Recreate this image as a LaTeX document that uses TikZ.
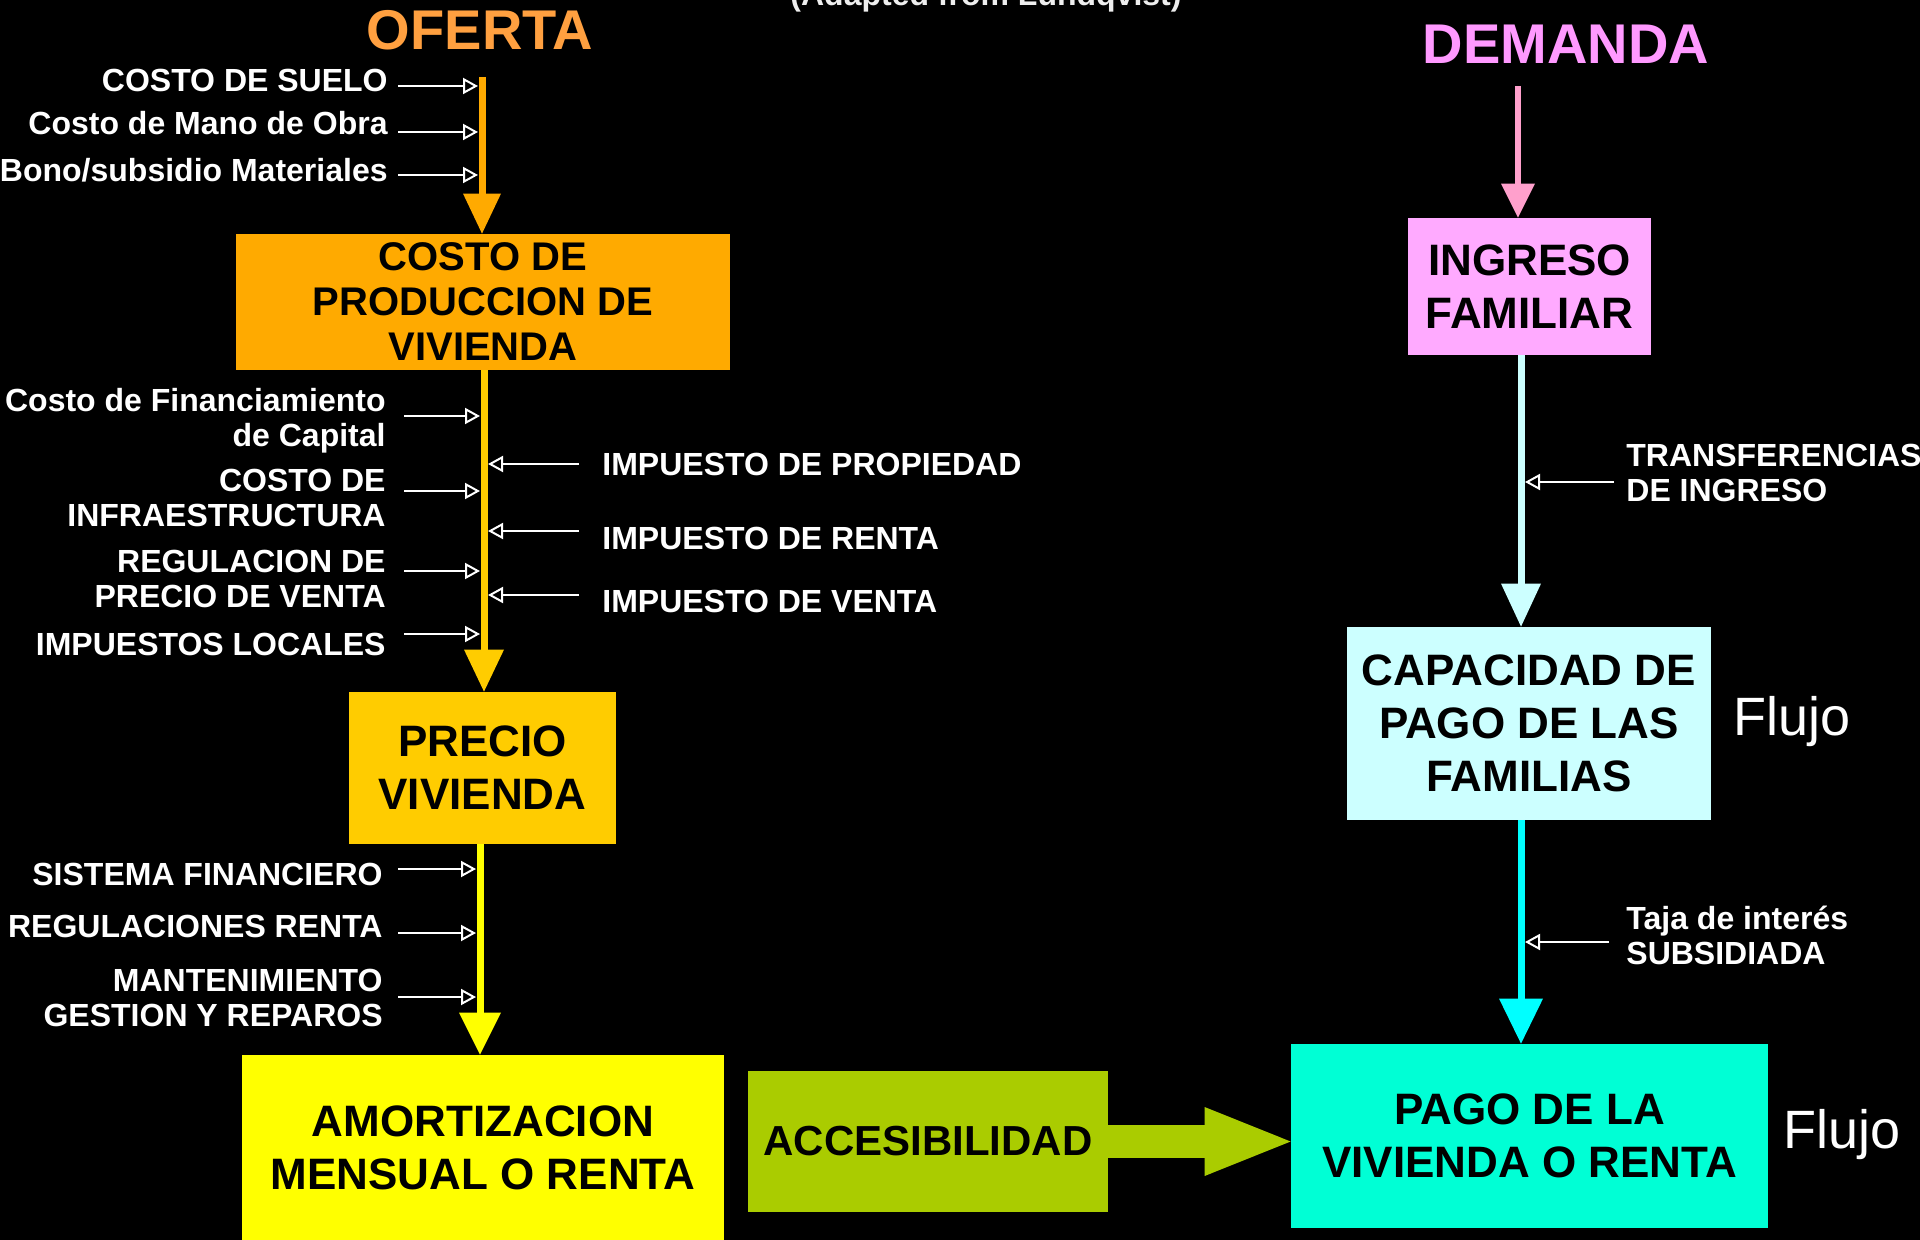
\documentclass[tikz,border=0pt]{standalone}
\usepackage{fontspec}
\setmainfont{Liberation Sans}
\usetikzlibrary{arrows.meta}
\definecolor{cOferta}{HTML}{FFA040}
\definecolor{cDemanda}{HTML}{FF99FF}
\definecolor{cOrange}{HTML}{FFAA00}
\definecolor{cGold}{HTML}{FFCC00}
\definecolor{cYellow}{HTML}{FFFF00}
\definecolor{cGreen}{HTML}{AACC00}
\definecolor{cAqua}{HTML}{00FFD5}
\definecolor{cPink}{HTML}{FFAAFF}
\definecolor{cPinkArr}{HTML}{FFA0CC}
\definecolor{cLCyan}{HTML}{CCFFFF}
\definecolor{cCyan}{HTML}{00FFFF}
\definecolor{cNote}{HTML}{EEEEEE}
\begin{document}
\begin{tikzpicture}[x=0.5pt,y=-0.5pt,
  box/.style={inner sep=0pt, align=center, text=black, font=\bfseries\fontsize{22}{26.5}\selectfont},
  title/.style={inner sep=0pt, font=\bfseries\fontsize{28}{30}\selectfont},
  lbl/.style={inner sep=0pt, text=white, font=\bfseries\fontsize{16}{17.5}\selectfont},
  lblL/.style={lbl, anchor=east, align=right},
  lblR/.style={lbl, anchor=west, align=left},
  flujo/.style={inner sep=0pt, text=white, font=\fontsize{27}{30}\selectfont},
  flow/.style={line width=3.5pt},
  inarr/.style={draw=white, line width=1pt, -{Triangle[open, width=8pt, length=7.5pt]}},
]
\fill[black] (0,0) rectangle (1920,1240);
\useasboundingbox (0,0) rectangle (1920,1240);

% titles
\node[title, text=cOferta] (oferta) at (480,30) {OFERTA};
\node[title, text=cDemanda] (demanda) at (1566,44) {DEMANDA};
\node[inner sep=0pt, text=cNote, anchor=base, font=\bfseries\fontsize{16}{18}\selectfont] (adapted) at (986,6) {(Adapted from Lundqvist)};

% boxes
\node[box, fill=cOrange, minimum width=247pt, minimum height=68pt, font=\bfseries\fontsize{20}{22.5}\selectfont] (cpv) at (483,302) {COSTO DE\\PRODUCCION DE\\VIVIENDA};
\node[box, fill=cGold, minimum width=133.5pt, minimum height=76pt] (precio) at (482.5,768) {PRECIO\\VIVIENDA};
\node[box, fill=cYellow, minimum width=241pt, minimum height=93pt] (amort) at (483,1148) {AMORTIZACION\\MENSUAL O RENTA};
\node[box, fill=cGreen, minimum width=180pt, minimum height=70.5pt, font=\bfseries\fontsize{21}{24}\selectfont] (acc) at (928,1141.5) {\raisebox{-2pt}{ACCESIBILIDAD}};
\node[box, fill=cAqua, minimum width=238.5pt, minimum height=92pt] (pago) at (1529.5,1136) {PAGO DE LA\\VIVIENDA O RENTA};
\node[box, fill=cPink, minimum width=121.5pt, minimum height=68.5pt] (ing) at (1529.5,286.5) {INGRESO\\FAMILIAR};
\node[box, fill=cLCyan, minimum width=182pt, minimum height=96.5pt] (cap) at (1529,723.5) {CAPACIDAD DE\\PAGO DE LAS\\FAMILIAS};

\node[flujo] (flujo1) at (1792,722) {Flujo};
\node[flujo] (flujo2) at (1842,1135) {Flujo};

% main flows
\coordinate (oTop) at (482,77);
\draw[flow, draw=cOrange, -{Triangle[width=19pt,length=20pt,line width=0pt]}] (oTop) -- (oTop |- cpv.north);
\coordinate (gx) at (484,0);
\draw[flow, draw=cGold, -{Triangle[width=20pt,length=21pt,line width=0pt]}] (gx |- cpv.south) -- (gx |- precio.north);
\coordinate (yx) at (480,0);
\draw[flow, draw=cYellow, -{Triangle[width=21pt,length=21pt,line width=0pt]}] (yx |- precio.south) -- (yx |- amort.north);
\draw[line width=16.5pt, draw=cGreen, -{Triangle[width=34.5pt,length=43pt,line width=0pt]}] (acc.east) -- (acc.east -| pago.west);

\coordinate (dTop) at (1518,86);
\draw[line width=3pt, draw=cPinkArr, -{Triangle[width=17pt,length=17pt,line width=0pt]}] (dTop) -- (dTop |- ing.north);
\coordinate (rx) at (1521,0);
\draw[flow, draw=cLCyan, -{Triangle[width=20pt,length=21.5pt,line width=0pt]}] (rx |- ing.south) -- (rx |- cap.north);
\draw[flow, draw=cCyan, -{Triangle[width=22pt,length=22.5pt,line width=0pt]}] (rx |- cap.south) -- (rx |- pago.north);

% left labels, top group
\node[lblL] (l1) at (388,80) {COSTO DE SUELO};
\node[lblL] (l2) at (388,123) {Costo de Mano de Obra};
\node[lblL] (l3) at (388,170) {Bono/subsidio Materiales};
\coordinate (s1) at (398,86);  \coordinate (e1) at (478,86);
\coordinate (s2) at (398,132); \coordinate (e2) at (478,132);
\coordinate (s3) at (398,175); \coordinate (e3) at (478,175);
\draw[inarr] (s1) -- (e1);
\draw[inarr] (s2) -- (e2);
\draw[inarr] (s3) -- (e3);

% left labels, middle group
\node[lblL] (l4) at (386,421) {Costo de Financiamiento\\de Capital};
\node[lblL] (l5) at (386,498) {COSTO DE\\INFRAESTRUCTURA};
\node[lblL] (l6) at (386,578.5) {REGULACION DE\\PRECIO DE VENTA};
\node[lblL] (l7) at (386,644) {IMPUESTOS LOCALES};
\coordinate (s4) at (404,416); \coordinate (e4) at (480,416);
\coordinate (s5) at (404,491); \coordinate (e5) at (480,491);
\coordinate (s6) at (404,571); \coordinate (e6) at (480,571);
\coordinate (s7) at (404,634); \coordinate (e7) at (480,634);
\draw[inarr] (s4) -- (e4);
\draw[inarr] (s5) -- (e5);
\draw[inarr] (s6) -- (e6);
\draw[inarr] (s7) -- (e7);

% right labels, middle group
\node[lblR] (r1) at (602,464) {IMPUESTO DE PROPIEDAD};
\node[lblR] (r2) at (602,538) {IMPUESTO DE RENTA};
\node[lblR] (r3) at (602,601) {IMPUESTO DE VENTA};
\coordinate (t1) at (579,464); \coordinate (f1) at (488,464);
\coordinate (t2) at (579,531); \coordinate (f2) at (488,531);
\coordinate (t3) at (579,595); \coordinate (f3) at (488,595);
\draw[inarr] (t1) -- (f1);
\draw[inarr] (t2) -- (f2);
\draw[inarr] (t3) -- (f3);

% left labels, bottom group
\node[lblL] (l8) at (383,874) {SISTEMA FINANCIERO};
\node[lblL] (l9) at (383,926) {REGULACIONES RENTA};
\node[lblL] (l10) at (383,998) {MANTENIMIENTO\\GESTION Y REPAROS};
\coordinate (s8) at (398,869);  \coordinate (e8) at (476,869);
\coordinate (s9) at (398,933);  \coordinate (e9) at (476,933);
\coordinate (s10) at (398,997); \coordinate (e10) at (476,997);
\draw[inarr] (s8) -- (e8);
\draw[inarr] (s9) -- (e9);
\draw[inarr] (s10) -- (e10);

% right column labels
\node[lblR] (tr) at (1626,472.5) {TRANSFERENCIAS\\DE INGRESO};
\node[lblR] (tj) at (1626,935.5) {Taja de interés\\SUBSIDIADA};
\coordinate (t4) at (1614,482); \coordinate (f4) at (1525,482);
\coordinate (t5) at (1609,942); \coordinate (f5) at (1525,942);
\draw[inarr] (t4) -- (f4);
\draw[inarr] (t5) -- (f5);
\end{tikzpicture}
\end{document}
